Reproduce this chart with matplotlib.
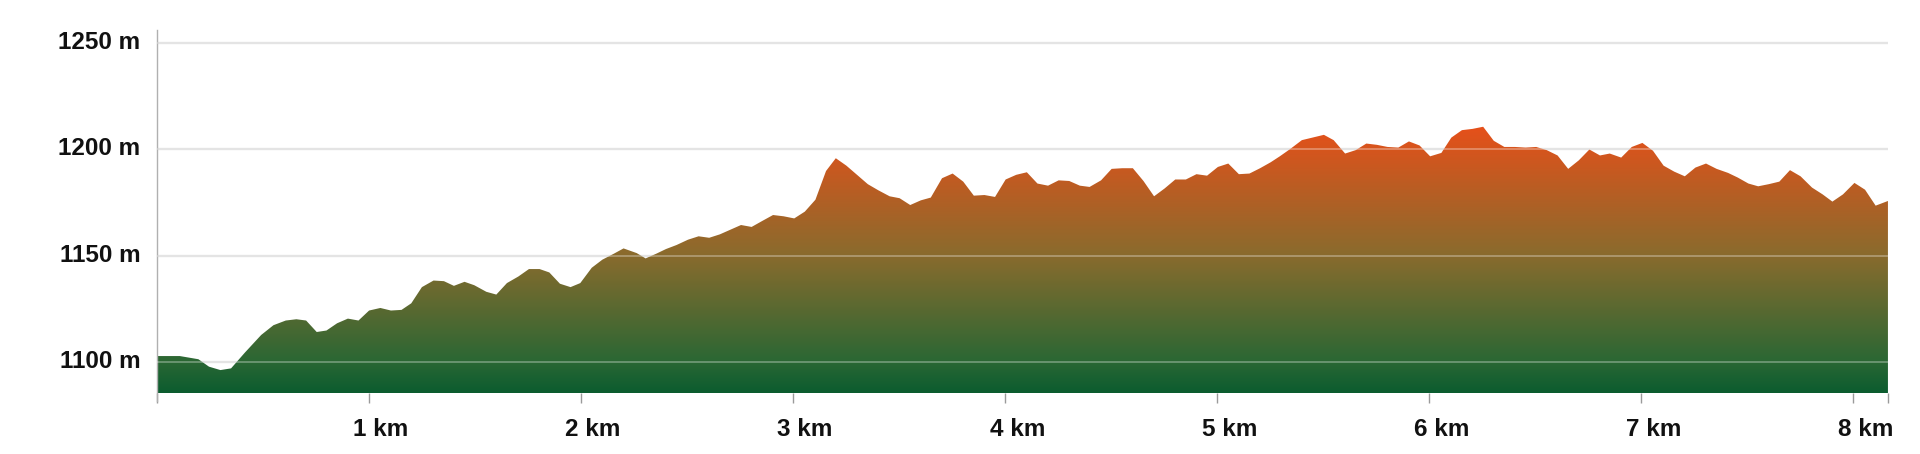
import numpy as np
import matplotlib.pyplot as plt
from matplotlib import font_manager
from matplotlib.colors import LinearSegmentedColormap
from matplotlib.patches import Polygon
from matplotlib.transforms import ScaledTranslation

# elevation profile (distance in km, elevation in m)
dist_km = [0.0, 0.107, 0.195, 0.245, 0.299, 0.349, 0.414, 0.491, 0.549, 0.607,
           0.657, 0.703, 0.753, 0.799, 0.849, 0.9, 0.95, 1.0, 1.053, 1.103,
           1.153, 1.199, 1.249, 1.304, 1.353, 1.4, 1.45, 1.496, 1.553, 1.6,
           1.65, 1.704, 1.754, 1.804, 1.85, 1.9, 1.95, 1.996, 2.05, 2.1,
           2.154, 2.2, 2.262, 2.304, 2.354, 2.4, 2.45, 2.504, 2.554, 2.604,
           2.654, 2.704, 2.754, 2.804, 2.854, 2.905, 2.955, 3.005, 3.055, 3.105,
           3.155, 3.201, 3.251, 3.301, 3.352, 3.402, 3.455, 3.502, 3.552, 3.602,
           3.649, 3.702, 3.752, 3.802, 3.852, 3.902, 3.952, 4.002, 4.052, 4.102,
           4.152, 4.202, 4.252, 4.302, 4.352, 4.398, 4.452, 4.502, 4.552, 4.602,
           4.652, 4.702, 4.752, 4.802, 4.852, 4.902, 4.952, 5.003, 5.052, 5.102,
           5.152, 5.202, 5.252, 5.295, 5.345, 5.399, 5.449, 5.503, 5.549, 5.603,
           5.653, 5.703, 5.753, 5.803, 5.854, 5.904, 5.954, 6.004, 6.057, 6.104,
           6.154, 6.204, 6.254, 6.304, 6.354, 6.404, 6.454, 6.504, 6.554, 6.605,
           6.655, 6.705, 6.755, 6.805, 6.851, 6.905, 6.955, 7.005, 7.055, 7.105,
           7.155, 7.205, 7.255, 7.305, 7.355, 7.409, 7.455, 7.505, 7.551, 7.601,
           7.651, 7.701, 7.751, 7.805, 7.855, 7.901, 7.951, 8.005, 8.055, 8.105,
           8.163]
elev_m = [1102.8, 1102.8, 1101.3, 1097.8, 1096.2, 1097.0, 1104.4, 1112.7, 1117.3, 1119.5,
          1120.1, 1119.5, 1114.1, 1114.8, 1118.2, 1120.4, 1119.5, 1124.2, 1125.4, 1124.2,
          1124.5, 1127.6, 1135.2, 1138.3, 1138.0, 1135.8, 1137.7, 1136.1, 1133.0, 1131.7,
          1137.1, 1140.2, 1143.7, 1143.7, 1142.1, 1136.8, 1135.2, 1137.1, 1144.3, 1148.1,
          1150.9, 1153.4, 1151.2, 1148.7, 1150.9, 1153.1, 1155.0, 1157.5, 1159.1, 1158.4,
          1160.0, 1162.2, 1164.4, 1163.5, 1166.3, 1169.1, 1168.5, 1167.5, 1170.7, 1176.3,
          1189.8, 1195.8, 1192.3, 1188.0, 1183.6, 1180.7, 1177.9, 1177.0, 1173.8, 1176.0,
          1177.3, 1186.4, 1188.6, 1184.8, 1178.2, 1178.5, 1177.6, 1185.8, 1188.0, 1189.2,
          1183.9, 1182.9, 1185.4, 1185.1, 1182.9, 1182.3, 1185.4, 1190.8, 1191.1, 1191.1,
          1185.1, 1177.9, 1181.6, 1185.8, 1185.8, 1188.3, 1187.6, 1191.7, 1193.3, 1188.3,
          1188.6, 1191.1, 1193.9, 1196.7, 1200.2, 1204.3, 1205.5, 1206.8, 1204.3, 1198.0,
          1199.6, 1202.7, 1202.1, 1201.1, 1200.8, 1203.7, 1201.8, 1196.7, 1198.3, 1205.5,
          1209.0, 1209.6, 1210.6, 1204.0, 1201.1, 1201.1, 1200.8, 1201.1, 1199.6, 1197.1,
          1190.8, 1194.8, 1199.9, 1197.1, 1198.0, 1196.1, 1201.1, 1203.0, 1199.3, 1192.3,
          1189.5, 1187.3, 1191.4, 1193.3, 1190.8, 1188.9, 1186.7, 1183.9, 1182.6, 1183.6,
          1184.8, 1190.2, 1187.3, 1182.0, 1178.8, 1175.4, 1178.8, 1184.2, 1181.0, 1173.5,
          1175.7]

km_ticks = [0, 1, 2, 3, 4, 5, 6, 7, 8]
m_ticks = [1100, 1150, 1200, 1250]

y_bottom = 1085.2
y_top = 1256.1

# narrow face if present, otherwise plain Liberation Sans a bit smaller
names = {f.name for f in font_manager.fontManager.ttflist}
if 'Liberation Sans Narrow' in names:
    plt.rcParams['font.family'] = ['Liberation Sans Narrow', 'DejaVu Sans']
    fsize = 19
else:
    plt.rcParams['font.family'] = ['Liberation Sans', 'DejaVu Sans']
    fsize = 17.5

fig = plt.figure(figsize=(19.2, 4.54), dpi=100)
ax = fig.add_axes([0.0818, 0.1333, 0.9015, 0.8007])

dist = np.array(dist_km)
elev = np.array(elev_m)

# gradient fill, green at the bottom to orange at the top
cmap = LinearSegmentedColormap.from_list(
    'elev', [(0.0, '#0b5c2f'), (0.12, '#2b6734'), (0.52, '#8a6b2d'), (1.0, '#e6501a')])
grad = np.linspace(0, 1, 256).reshape(-1, 1)
im = ax.imshow(grad, cmap=cmap, origin='lower', aspect='auto',
               extent=[dist[0], dist[-1], y_bottom, elev.max()], zorder=2)
verts = np.column_stack([np.r_[dist[0], dist, dist[-1]],
                         np.r_[y_bottom, elev, y_bottom]])
poly = Polygon(verts, closed=True, facecolor='none', edgecolor='none', transform=ax.transData)
ax.add_patch(poly)
im.set_clip_path(poly)

# grid: grey behind, faint light line over the area
for y in m_ticks:
    ax.axhline(y, color='#d9d9d9', lw=1.6, zorder=1)
    ax.axhline(y, color='white', lw=1.4, alpha=0.3, zorder=3)

ax.set_xlim(dist[0], dist[-1])
ax.set_ylim(y_bottom, y_top)

ax.set_xticks(km_ticks + [dist[-1]])
ax.set_xticklabels([''] + [f'{k} km' for k in km_ticks[1:]] + [''])
ax.set_yticks(m_ticks)
ax.set_yticklabels([f'{m} m' for m in m_ticks])

ax.tick_params(axis='x', direction='out', length=7.5, width=1, color='#9a9a9a',
               pad=10, labelsize=fsize)
ax.tick_params(axis='y', length=0, pad=12, labelsize=fsize)
for lab in ax.get_xticklabels() + ax.get_yticklabels():
    lab.set_fontweight('bold')
    lab.set_color('#111111')
for lab in ax.get_xticklabels():
    lab.set_transform(lab.get_transform() + ScaledTranslation(0.12, 0, fig.dpi_scale_trans))
for lab in ax.get_yticklabels():
    lab.set_transform(lab.get_transform() + ScaledTranslation(0, 0.03, fig.dpi_scale_trans))

for s in ['top', 'right', 'bottom']:
    ax.spines[s].set_visible(False)
ax.spines['left'].set_color('#b0b0b0')
ax.spines['left'].set_linewidth(1)
ax.spines['left'].set_bounds(y_bottom - 3.5, y_top)

fig.savefig('out.png', dpi=100)
